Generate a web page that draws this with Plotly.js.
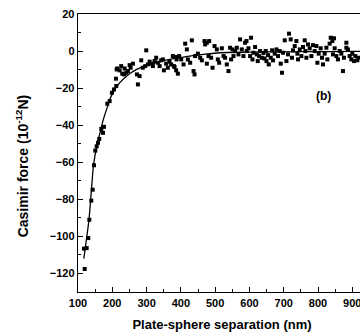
<!DOCTYPE html>
<html>
<head>
<meta charset="utf-8">
<script src="https://cdn.plot.ly/plotly-3.0.1.min.js"></script>
<style>
html,body{margin:0;padding:0;background:#fff;overflow:hidden;width:360px;height:335px;}
#chart{width:400px;height:335px;}
</style>
</head>
<body>
<div id="chart"></div>
<script>
// Measured data points: plate-sphere separation (nm) and Casimir force (10^-12 N)
const separationNm = [
  119.5,117.5,125.3,130,133,138.7,142.8,146.6,150.5,154.4,158.3,162,168,172.8,175.7,
  185.4,192.3,199,205,211.6,210.7,214.5,221.4,226.1,229,234,240.7,236,245.6,253.5,260.2,250.6,274.8,271.9,279.7,284.4,299,289,296,304,308.8,313.5,318.5,323.4,328,333,338,342.6,347.6,350.5,357.2,362,367,371.7,379.6,386.3,386.3,212.7,
  376.7,381.6,387.5,391.3,395,401,407.8,412.6,417.5,420.4,427.2,432,437,439.9,441.7,449.6,456.3,461.2,469,475.8,482.5,470.8,475.8,480.7,488.3,492.4,498.2,504.9,507.8,511.6,519.5,524.4,529,534,538.9,543.6,546.5,550.6,553.5,558.2,563.1,568,572.7,577.7,582.6,587.3,592.2,597.2,604.8,601.9,608.9,611.8,616.5,621.5,624.3,628.2,631,636,
  647.6,649.6,654.3,656.3,662.2,666,668.9,673.8,678.8,683.4,688.3,691.3,695,698,703,707.9,712.6,715.5,720.4,724.2,727.1,732.1,737,739.9,741.7,746.7,751.6,756.2,761.2,763.2,766.1,770.8,775.8,780.7,785.4,790.4,795.3,798.2,802,807.8,811.6,814.6,819.5,824.4,827.3,834,837,846.6,841.9,843.7,848.6,853.6,858.2,863.2,868.1,872.8,875.7,882.7,887.3,892.3,897.2,900.1,904.8,908.9,914.7,919.3,
  591.4,882.7,641,644
];
const forcePN = [
  -117.6,-106.6,-106.3,-100.9,-91,-80.7,-74.8,-61.6,-53.7,-51.4,-49.5,-47.4,-42,-44.1,-40.9,
  -28.4,-27,-22.5,-20.7,-18.9,-14.9,-9.4,-10.4,-8.1,-12.2,-12.6,-11.7,-9.4,-10.8,-9,-6.8,-7.6,-18,-12.6,-13.5,-5,0.4,-9,-8.1,-7.2,-5.7,-6.8,-8.1,-5.4,-3.6,-6.3,-8.1,-5,-4.5,-10.4,-6.8,-9,-5.7,-7.2,-8.1,-3.2,-10.4,-9.9,
  -2.7,-8.6,-4.5,-12.2,-2.7,-4.5,-7.2,4,0.9,-4.5,-6.3,5.8,-10.8,-12.6,-2.7,-1.4,-3.6,-5,5.4,4.5,5.4,3.6,-6.8,-2.7,-3.6,-9,2.7,0.9,-4.5,-6.3,1.5,-2.7,-3.6,-7.2,-10.8,1.8,-4.5,0.9,-2.7,0,1.8,-1.8,6.3,0.9,-2.7,4.5,0,1.5,7.2,-2.7,-4.5,-0.9,2.2,-1.8,-5.4,-2.7,0,-3.6,
  0,-5.4,-2.2,-7.2,-3.6,0.4,-5,-1.4,0.9,-2.7,0,-6.8,-11.7,-0.9,5.8,-5.4,-1.8,9.4,6.3,-3.6,0.4,2.7,5.4,-1.4,-4.5,0.9,-2.7,2.2,5.8,0,-3.6,3.6,1.5,-2.7,3.2,0,2.7,-6.3,-1.4,1.5,-3.6,-7.2,-1.4,1.8,-4.5,4,7.2,6.9,5.4,-1.8,1.5,-2.7,-4.5,0,-1.4,-10.8,-3.6,1.8,0.9,-2.7,-4.5,-1.4,-5.4,-2.7,-5,-3.6,
  5.4,4.5,-1,-4
];
// Theoretical curve
const fitSeparation = [117,125,132,140,145,155,165,173,185,193,205,222,245,271,300,329,360,397,430,465,514,600,700,800,900,1000];
const fitForce = [-112,-101,-91,-73,-62,-51,-43.5,-37.5,-30.5,-26,-21.5,-17,-13,-9.9,-7.8,-6.3,-4.8,-3.6,-2.6,-1.8,-0.9,-0.6,-0.4,-0.3,-0.2,-0.1];

const xTitle = 'Plate-sphere separation (nm)';
const yTitle = 'Casimir force (10<sup>-12</sup>N)';
const panelLabel = '(b)';

const FONT = 'Liberation Sans, Arial, sans-serif';
const tickFont = {family: FONT, size: 11, color: '#000', weight: 'bold'};

const traces = [
  {
    x: separationNm, y: forcePN, type: 'scatter', mode: 'markers',
    marker: {symbol: 'square', size: 4, color: '#000', line: {width: 0}},
    hoverinfo: 'skip', showlegend: false
  },
  {
    x: fitSeparation, y: fitForce, type: 'scatter', mode: 'lines',
    line: {color: '#000', width: 1.3, shape: 'spline', smoothing: 0.8},
    hoverinfo: 'skip', showlegend: false
  }
];

const layout = {
  width: 400, height: 335,
  margin: {l: 78, r: 34, t: 14, b: 43, pad: 0},
  paper_bgcolor: '#fff', plot_bgcolor: '#fff',
  showlegend: false,
  xaxis: {
    range: [100, 940], dtick: 100, tick0: 100,
    ticks: 'inside', ticklen: 5, tickwidth: 1, tickcolor: '#000',
    minor: {dtick: 50, ticks: 'inside', ticklen: 3, tickwidth: 1, tickcolor: '#000'},
    showline: true, linecolor: '#000', linewidth: 1.3, mirror: true,
    showgrid: false, zeroline: false,
    tickfont: tickFont,
    title: {text: xTitle, font: {family: FONT, size: 13, color: '#000', weight: 'bold'}, standoff: 12}
  },
  yaxis: {
    range: [-130, 20], dtick: 20, tick0: 0,
    ticks: 'inside', ticklen: 5, tickwidth: 1, tickcolor: '#000',
    minor: {dtick: 10, ticks: 'inside', ticklen: 3, tickwidth: 1, tickcolor: '#000'},
    showline: true, linecolor: '#000', linewidth: 1.3, mirror: true,
    showgrid: false, zeroline: false,
    tickfont: tickFont
  },
  annotations: [
    {
      text: yTitle, xref: 'paper', yref: 'paper',
      x: -0.195, y: 0.455, xanchor: 'center', yanchor: 'middle',
      textangle: -90, showarrow: false,
      font: {family: FONT, size: 14, color: '#000', weight: 'bold'}
    },
    {
      text: panelLabel, xref: 'x', yref: 'y', x: 815, y: -24,
      xanchor: 'center', yanchor: 'middle', showarrow: false,
      font: {family: FONT, size: 12, color: '#000', weight: 'bold'}
    }
  ]
};

Plotly.newPlot('chart', traces, layout, {staticPlot: true, displayModeBar: false});
</script>
</body>
</html>
